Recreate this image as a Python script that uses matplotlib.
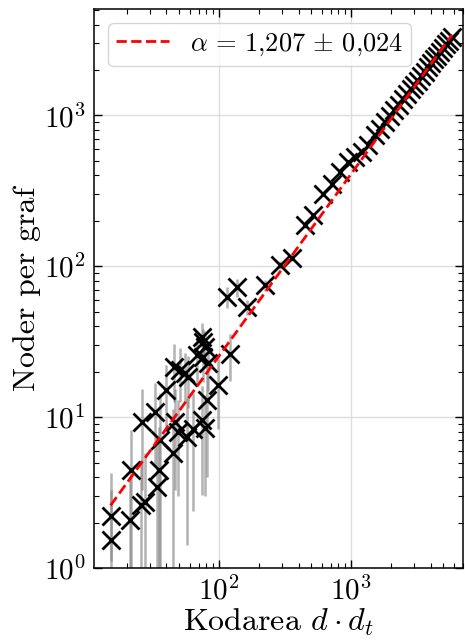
import numpy as np
import matplotlib
matplotlib.use("Agg")
import matplotlib.pyplot as plt

plt.rcParams['font.family'] = 'serif'
plt.rcParams['font.serif'] = ['cmr10']
plt.rcParams['mathtext.fontset'] = 'cm'
plt.rcParams['axes.formatter.use_mathtext'] = True
plt.rcParams['font.size'] = 21

# spridda grafer (liten kodarea)
x_spridd = [15.1, 15.1, 21.2, 21.4, 25.5, 27.4, 25.9, 32.7, 34.0, 35.1,
            35.7, 39.5, 45.1, 46.4, 45.6, 49.2, 50.7, 55.0, 58.6, 56.9,
            63.9, 67.8, 73.9, 75.5, 78.3, 76.0, 82.0, 74.6, 78.0, 81.5,
            98.8, 121.0, 114.0, 136.0, 162.0, 223.0]
y_spridd = [1.53, 2.21, 2.08, 4.46, 2.61, 2.75, 9.3, 10.8, 3.45, 4.46,
            7.04, 15.1, 5.75, 9.3, 21.5, 8.0, 20.5, 19.5, 18.5, 7.41,
            8.4, 25.7, 34.0, 31.5, 29.2, 25.0, 23.0, 9.55, 8.5, 13.0,
            16.3, 26.4, 62.6, 72.8, 53.5, 74.8]
fel_spridd = [2.7, 1.1, 2.0, 3.8, 2.6, 3.0, 6.0, 6.0, 4.0, 4.2,
              7.4, 7.0, 5.5, 6.0, 9.0, 5.0, 8.0, 7.0, 7.0, 6.0,
              6.0, 9.0, 8.0, 7.0, 8.0, 8.0, 8.0, 6.5, 5.5, 9.0,
              8.0, 9.0, 10.0, 10.0, 6.0, 6.0]

# regelbundna grafer (stor kodarea)
x_regel = [290, 356, 449, 518, 617, 714, 826, 955, 1072, 1205, 1353, 1520,
           1660, 1811, 1957, 2117, 2290, 2456, 2634, 2824, 3002, 3190, 3391,
           3605, 3832, 4037, 4255, 4483, 4724, 4977, 5245, 5527, 5824]
y_regel = [102, 114, 187, 218, 303, 353, 421, 491, 530, 571, 633, 738,
           817, 903, 987, 1080, 1180, 1280, 1380, 1490, 1590, 1700, 1820,
           1950, 2090, 2220, 2350, 2490, 2640, 2800, 2960, 3130, 3300]
fel_regel = [6, 6, 8, 8, 10, 10, 12, 12, 14, 14, 15, 16,
             16, 18, 18, 20, 20, 22, 22, 24, 24, 26, 26,
             28, 28, 30, 30, 32, 32, 34, 34, 36, 36]

# anpassning N = A * x^alpha
fit_alpha = 1.207
fit_alpha_err = 0.024
fit_amp = 0.098

x = np.array(x_spridd + x_regel)
y = np.array(y_spridd + y_regel)
fel = np.array(fel_spridd + fel_regel)

fig = plt.figure(figsize=(4.65, 6.41), dpi=100)
ax = fig.add_axes([0.202, 0.114, 0.794, 0.872])

ax.errorbar(x, y, yerr=fel, fmt='none', ecolor='gray', alpha=0.6,
            elinewidth=1.8, zorder=2)
ax.plot(x, y, 'x', color='black', markersize=13, markeredgewidth=2.0, zorder=3)

xf = np.logspace(np.log10(x.min()), np.log10(x.max()), 200)
lbl = r'$\alpha\,=\,%s\,\pm\,%s$' % (f'{fit_alpha:.3f}'.replace('.', '{,}'),
                                     f'{fit_alpha_err:.3f}'.replace('.', '{,}'))
ax.plot(xf, fit_amp * xf**fit_alpha, '--', color='red', lw=2.0, zorder=4,
        label=lbl)

ax.set_xscale('log')
ax.set_yscale('log')
ax.set_xlim(11.3, 7050)
ax.set_ylim(1, 5080)

ax.set_xlabel(r'Kodarea $d \cdot d_t$', fontsize=23, labelpad=1)
ax.set_ylabel('Noder per graf', fontsize=23, labelpad=2)

ax.grid(True, which='major', color='#dddddd', lw=1.0, zorder=0)
ax.tick_params(which='both', direction='in', top=True, right=True)
ax.tick_params(which='major', length=6, width=1.0, pad=6)
ax.tick_params(which='minor', length=3.5, width=0.8)
for s in ax.spines.values():
    s.set_linewidth(1.1)

ax.legend(loc='upper left', fancybox=True, framealpha=0.8, edgecolor='#cccccc',
          fontsize=19, borderaxespad=0.55, borderpad=0.3, handlelength=2.0)

fig.savefig('out.png', dpi=100)
